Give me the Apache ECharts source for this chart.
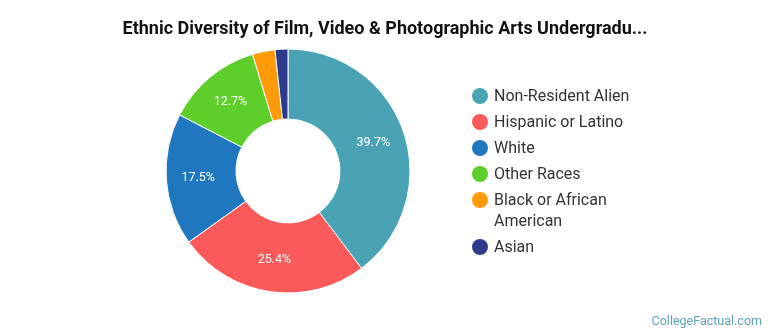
<!DOCTYPE html>
<html><head><meta charset="utf-8">
<script src="https://cdn.jsdelivr.net/npm/echarts@6/dist/echarts.min.js"></script>
<style>html,body{margin:0;padding:0;background:#fff}#c{width:770px;height:335px}</style>
</head><body><div id="c"></div>
<script>
const categories = ["Non-Resident Alien","Hispanic or Latino","White","Other Races","Black or African American","Asian"];
const legendLabels = ["Non-Resident Alien","Hispanic or Latino","White","Other Races","Black or African\nAmerican","Asian"];
const values = [39.7, 25.4, 17.5, 12.7, 3.0, 1.7];
const colors = ["#4aa3b5","#fc5a5a","#1f77c0","#5ecf2a","#ff9a0a","#2e3a8c"];
const chart = echarts.init(document.getElementById('c'));
// legend built as graphic so the icon aligns with the first line of wrapped labels
const legendItems = [];
let y = 96;
legendLabels.forEach((lab,i)=>{
  legendItems.push({type:'circle',shape:{cx:480,cy:y,r:8},style:{fill:colors[i]}});
  legendItems.push({type:'text',x:494,y:y-10,style:{text:lab,fontFamily:'Roboto',fontSize:16,lineHeight:21,fill:'#333',verticalAlign:'top'}});
  y += 26 + (lab.split('\n').length-1)*21;
});
chart.setOption({
  animation:false,
  title:{text:"Ethnic Diversity of Film, Video & Photographic Arts Undergradu...",left:380,textAlign:'center',top:15,
    textStyle:{fontFamily:'Roboto',fontWeight:'bold',fontSize:18,color:'#111'}},
  graphic:legendItems.concat([{type:'text',right:8,bottom:7,style:{text:'CollegeFactual.com',fontFamily:'Roboto',fontSize:12.5,fill:'#5aa3b8'}}]),
  series:[{type:'pie',center:[288,171],radius:[52,122],startAngle:90,clockwise:true,
    itemStyle:{borderColor:'#fff',borderWidth:1},
    label:{position:'inside',formatter:p=>p.value>=5?p.value.toFixed(1)+'%':'',color:'#fff',fontFamily:'Roboto',fontSize:12.5},
    labelLine:{show:false},
    data:categories.map((c,i)=>({name:c,value:values[i],itemStyle:{color:colors[i]}}))}]
});
</script></body></html>
